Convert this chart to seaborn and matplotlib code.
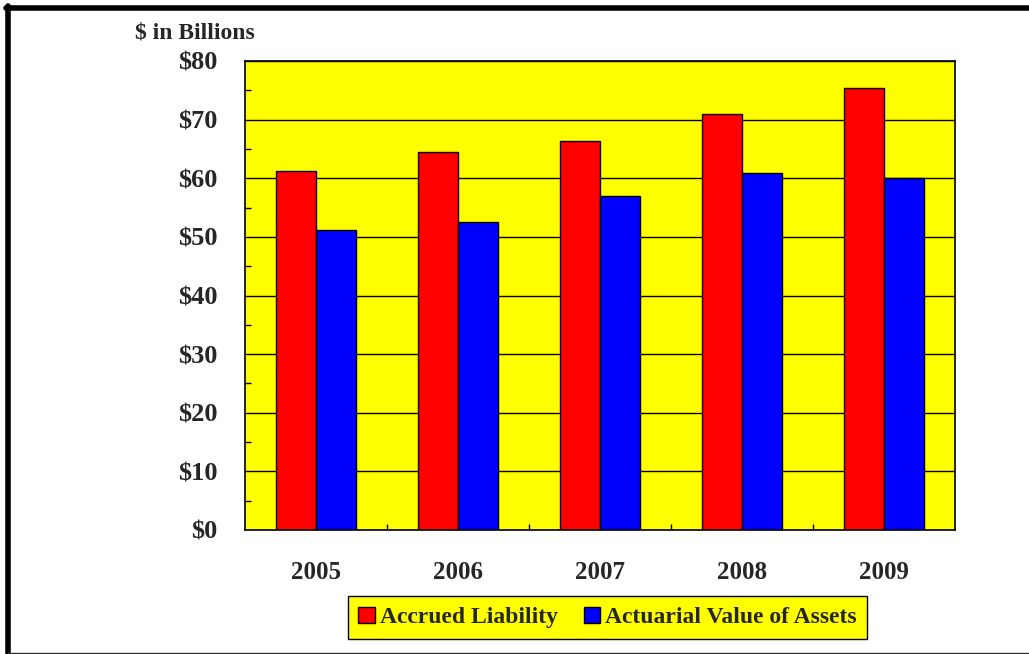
import pandas as pd
import matplotlib
matplotlib.use("Agg")
import matplotlib.pyplot as plt
import seaborn as sns
from matplotlib.ticker import MultipleLocator, FixedLocator
from matplotlib.lines import Line2D

# --------------------------
# Dados
# --------------------------
anos = ["2005", "2006", "2007", "2008", "2009"]
accrued_liability = [61.2, 64.4, 66.4, 70.9, 75.4]
actuarial_assets = [51.1, 52.5, 57.0, 60.9, 60.0]
series = ["Accrued Liability", "Actuarial Value of Assets"]
cores = ["#FF0000", "#0000FF"]
y_ticks = [0, 10, 20, 30, 40, 50, 60, 70, 80]

df = pd.DataFrame({
    "ano": anos * 2,
    "valor": accrued_liability + actuarial_assets,
    "serie": [series[0]] * len(anos) + [series[1]] * len(anos),
})

sns.set_theme(style="white")
plt.rcParams["font.family"] = ["Liberation Serif", "DejaVu Serif"]
plt.rcParams["font.weight"] = "bold"

fig = plt.figure(figsize=(10.29, 6.54), dpi=100)
ax = fig.add_axes([245 / 1029, 1 - 530 / 654, 710 / 1029, 469 / 654])

sns.barplot(data=df, x="ano", y="valor", hue="serie", order=anos,
            hue_order=series, palette=dict(zip(series, cores)),
            width=0.56, edgecolor="black", linewidth=1, ax=ax,
            legend=False, saturation=1)

ax.set_facecolor("#FFFF00")
ax.set_ylim(0, 80)
ax.set_xlim(-0.5, len(anos) - 0.5)
ax.set_yticks(y_ticks)
ax.set_yticklabels([f"${v}" for v in y_ticks])
ax.yaxis.set_minor_locator(MultipleLocator(5))
ax.xaxis.set_minor_locator(FixedLocator([i + 0.5 for i in range(len(anos) - 1)]))
ax.grid(axis="y", which="major", color="black", linewidth=1)
ax.set_axisbelow(True)
ax.set_xlabel("")
ax.set_ylabel("")
for s in ax.spines.values():
    s.set_visible(True)
    s.set_color("black")
    s.set_linewidth(1.2)

ax.tick_params(axis="y", which="major", length=0, pad=20, labelsize=19)
ax.tick_params(axis="y", which="minor", direction="in", length=4, width=1, color="black", left=True)
ax.tick_params(axis="x", which="major", length=0, pad=22, labelsize=18)
ax.tick_params(axis="x", which="minor", direction="in", length=4, width=1, color="black", bottom=True)
for lbl in ax.get_xticklabels() + ax.get_yticklabels():
    lbl.set_fontweight("bold")

fig.text(195 / 1029, 1 - 33 / 654, "$ in Billions", ha="center", va="center",
         fontsize=17, fontweight="bold")

handles = [plt.Rectangle((0, 0), 1, 1, facecolor=c, edgecolor="black", linewidth=1) for c in cores]
leg = fig.legend(handles, series, loc="center", ncol=2,
                 bbox_to_anchor=((337 + 878) / 2 / 1029, 1 - 617.5 / 654),
                 fancybox=False, frameon=True, handlelength=0.7, handleheight=0.7,
                 handletextpad=0.2, columnspacing=1.1, borderpad=0.45,
                 prop={"size": 17, "weight": "bold"})
leg.get_frame().set_facecolor("#FFFF00")
leg.get_frame().set_edgecolor("black")
leg.get_frame().set_linewidth(1)
leg.get_frame().set_alpha(1)

# moldura externa
fig.add_artist(Line2D([7.5 / 1029, 7.5 / 1029], [1 - 6 / 654, 1 - 653 / 654],
                      transform=fig.transFigure, color="black", linewidth=4))
fig.add_artist(Line2D([6 / 1029, 1], [1 - 8 / 654, 1 - 8 / 654],
                      transform=fig.transFigure, color="black", linewidth=4))
fig.add_artist(Line2D([8 / 1029, 1], [1 - 652.5 / 654, 1 - 652.5 / 654],
                      transform=fig.transFigure, color="#333333", linewidth=1))

fig.savefig("out.png", dpi=100)
